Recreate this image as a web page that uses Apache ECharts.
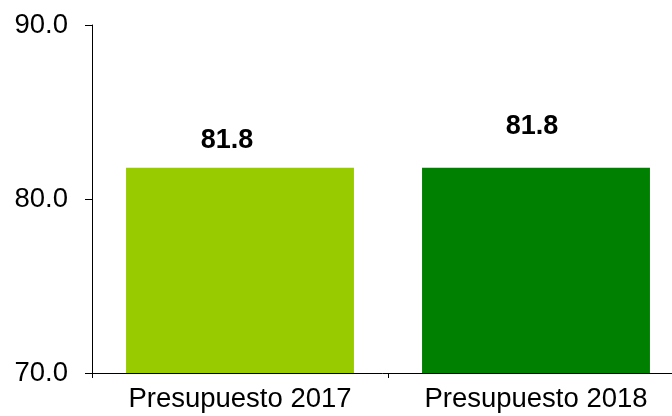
<!DOCTYPE html>
<html>
<head>
<meta charset="utf-8">
<script src="https://cdn.jsdelivr.net/npm/echarts@6/dist/echarts.min.js"></script>
<style>
html,body{margin:0;padding:0;background:#fff;}
#chart{width:672px;height:416px;}
</style>
</head>
<body>
<div id="chart"></div>
<script>
var categories = ["Presupuesto 2017", "Presupuesto 2018"];
var values = [81.8, 81.8];
var barColors = ["#99CC00", "#008000"];

var labelStyles = [
  {distance: 14, offset: [-13, 0]},
  {distance: 28, offset: [-4, 0]}
];

var chart = echarts.init(document.getElementById('chart'), null, {renderer: 'canvas'});
var font = "'Liberation Sans', Arial, sans-serif";
chart.setOption({
  animation: false,
  grid: {left: 92, right: -12, top: 25, bottom: 43, outerBoundsMode: 'none', containLabel: false},
  xAxis: {
    type: 'category',
    data: categories,
    axisLine: {lineStyle: {color: '#000', width: 1}},
    axisTick: {show: true, length: 5, lineStyle: {color: '#000'}},
    axisLabel: {color: '#000', fontSize: 27.5, fontFamily: font, margin: 12}
  },
  yAxis: {
    type: 'value',
    min: 70, max: 90, interval: 10,
    axisLine: {show: true, lineStyle: {color: '#000', width: 1}},
    axisTick: {show: true, length: 7, lineStyle: {color: '#000'}},
    splitLine: {show: false},
    axisLabel: {color: '#000', fontSize: 27.5, fontFamily: font, margin: 24,
      formatter: function(v){ return v.toFixed(1); }}
  },
  series: [{
    type: 'bar',
    barCategoryGap: '23%',
    data: values.map(function(v, i){
      return {value: v, itemStyle: {color: barColors[i]}, label: labelStyles[i]};
    }),
    label: {show: true, position: 'top', color: '#000', fontSize: 27, fontWeight: 'bold', fontFamily: font,
      formatter: function(p){ return p.value.toFixed(1); }}
  }]
});
</script>
</body>
</html>
